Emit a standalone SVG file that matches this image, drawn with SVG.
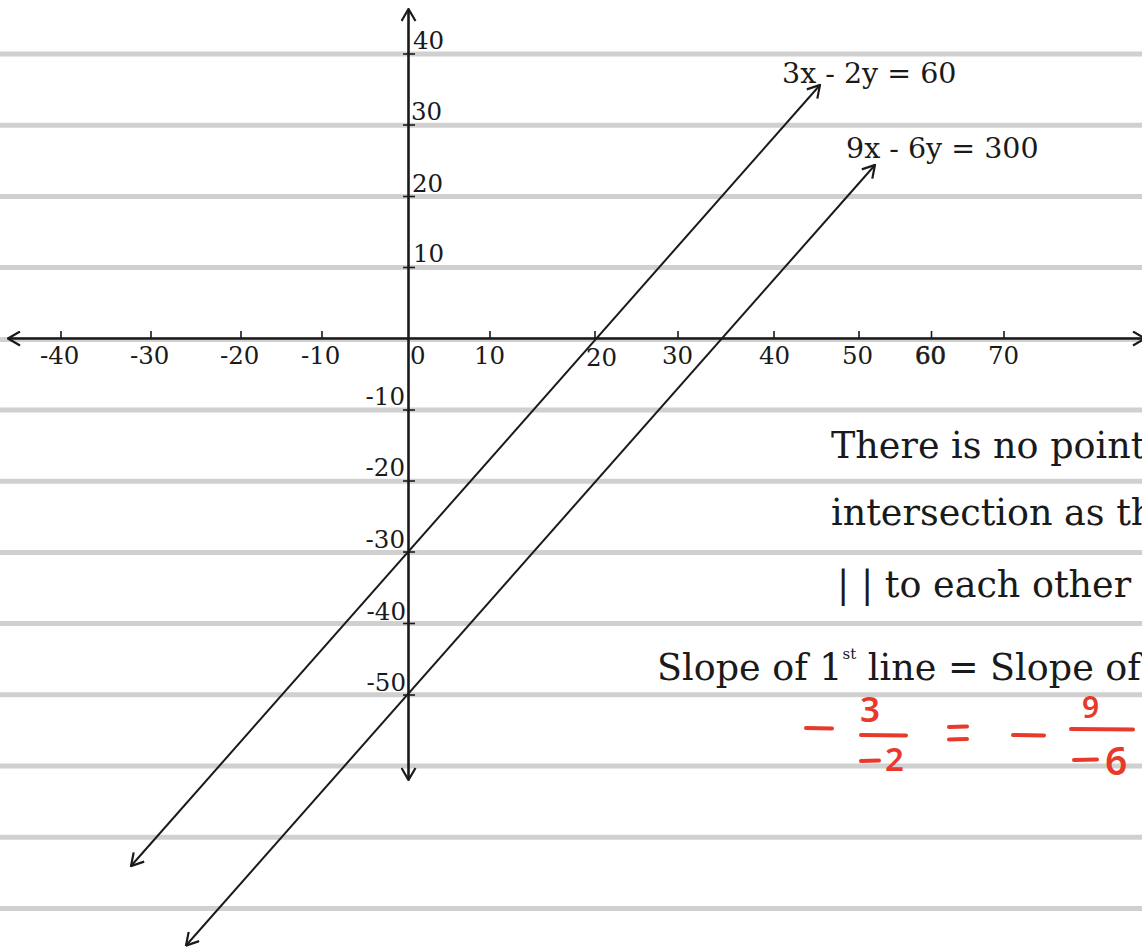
<svg xmlns="http://www.w3.org/2000/svg" width="1142" height="950" viewBox="0 0 1142 950">
  <defs>
    <style>
      .rule { stroke: #d0d0d0; stroke-width: 5; }
      .axis { stroke: #1a1a1a; stroke-width: 2.6; fill: none; }
      .tick { stroke: #1a1a1a; stroke-width: 1.6; }
      .graph { stroke: #1a1a1a; stroke-width: 2; fill: none; }
      .lbl { font-family: "DejaVu Serif", "Liberation Serif", serif; font-size: 24.5px; fill: #1a1a1a; }
      .eq { font-family: "DejaVu Serif", "Liberation Serif", serif; font-size: 28.5px; fill: #1a1a1a; }
      .note { font-family: "DejaVu Serif", "Liberation Serif", serif; font-size: 36.5px; fill: #1a1a1a; }
      .red { font-family: "Noto Sans", "Liberation Sans", sans-serif; font-weight: 600; fill: #e8392a; }
      .redline { stroke: #e8392a; stroke-width: 4; stroke-linecap: round; }
    </style>
    <marker id="arr" viewBox="0 0 14 16" refX="13" refY="8" markerWidth="14" markerHeight="16" orient="auto-start-reverse" markerUnits="userSpaceOnUse">
      <path d="M1,1 L13,8 L1,15" fill="none" stroke="#1a1a1a" stroke-width="2.2"/>
    </marker>
  </defs>

  <rect width="1142" height="950" fill="#ffffff"/>

  <g id="ruled-lines">
    <line class="rule" x1="0" y1="54" x2="1142" y2="54"/>
    <line class="rule" x1="0" y1="125.2" x2="1142" y2="125.2"/>
    <line class="rule" x1="0" y1="196.4" x2="1142" y2="196.4"/>
    <line class="rule" x1="0" y1="267.6" x2="1142" y2="267.6"/>
    <line class="rule" x1="0" y1="339.5" x2="1142" y2="339.5"/>
    <line class="rule" x1="0" y1="410" x2="1142" y2="410"/>
    <line class="rule" x1="0" y1="481.2" x2="1142" y2="481.2"/>
    <line class="rule" x1="0" y1="552.4" x2="1142" y2="552.4"/>
    <line class="rule" x1="0" y1="623.6" x2="1142" y2="623.6"/>
    <line class="rule" x1="0" y1="694.8" x2="1142" y2="694.8"/>
    <line class="rule" x1="0" y1="766" x2="1142" y2="766"/>
    <line class="rule" x1="0" y1="837.2" x2="1142" y2="837.2"/>
    <line class="rule" x1="0" y1="908.4" x2="1142" y2="908.4"/>
  </g>

  <g id="axes">
    <line class="axis" x1="408.5" y1="9" x2="408.5" y2="780" marker-start="url(#arr)" marker-end="url(#arr)"/>
    <line class="axis" x1="8" y1="338.5" x2="1145" y2="338.5" marker-start="url(#arr)" marker-end="url(#arr)"/>
  </g>

  <g id="ticks">
    <line class="tick" x1="61" y1="331" x2="61" y2="339"/>
    <line class="tick" x1="151" y1="331" x2="151" y2="339"/>
    <line class="tick" x1="241" y1="331" x2="241" y2="339"/>
    <line class="tick" x1="322" y1="331" x2="322" y2="339"/>
    <line class="tick" x1="490" y1="331" x2="490" y2="339"/>
    <line class="tick" x1="595" y1="331" x2="595" y2="339"/>
    <line class="tick" x1="678" y1="331" x2="678" y2="339"/>
    <line class="tick" x1="774" y1="331" x2="774" y2="339"/>
    <line class="tick" x1="859" y1="331" x2="859" y2="339"/>
    <line class="tick" x1="931.5" y1="331" x2="931.5" y2="339"/>
    <line class="tick" x1="1004" y1="331" x2="1004" y2="339"/>
    <line class="tick" x1="403" y1="54" x2="415" y2="54"/>
    <line class="tick" x1="403" y1="125" x2="415" y2="125"/>
    <line class="tick" x1="403" y1="196.5" x2="415" y2="196.5"/>
    <line class="tick" x1="403" y1="267.5" x2="415" y2="267.5"/>
    <line class="tick" x1="403" y1="410" x2="415" y2="410"/>
    <line class="tick" x1="403" y1="481" x2="415" y2="481"/>
    <line class="tick" x1="403" y1="552" x2="415" y2="552"/>
    <line class="tick" x1="403" y1="623.5" x2="415" y2="623.5"/>
    <line class="tick" x1="403" y1="695" x2="415" y2="695"/>
  </g>

  <g id="x-labels" class="lbl">
    <text x="40" y="364">-40</text>
    <text x="130" y="364">-30</text>
    <text x="220" y="364">-20</text>
    <text x="301" y="364">-10</text>
    <text x="410" y="364">0</text>
    <text x="474" y="364">10</text>
    <text x="586" y="366">20</text>
    <text x="662" y="364">30</text>
    <text x="759" y="364">40</text>
    <text x="842" y="364">50</text>
    <text x="915" y="364" stroke="#1a1a1a" stroke-width="0.6">60</text>
    <text x="988" y="364">70</text>
  </g>

  <g id="y-labels" class="lbl">
    <text x="413" y="49">40</text>
    <text x="411" y="120">30</text>
    <text x="412" y="192">20</text>
    <text x="413" y="262">10</text>
    <text x="405" y="405" text-anchor="end">-10</text>
    <text x="405" y="476" text-anchor="end">-20</text>
    <text x="405" y="548" text-anchor="end">-30</text>
    <text x="406" y="620" text-anchor="end">-40</text>
    <text x="406" y="691" text-anchor="end">-50</text>
  </g>

  <g id="connectors">
    <line id="line1" class="graph" x1="131" y1="866" x2="820" y2="85" marker-start="url(#arr)" marker-end="url(#arr)"/>
    <line id="line2" class="graph" x1="186" y1="945.5" x2="875" y2="165" marker-start="url(#arr)" marker-end="url(#arr)"/>
  </g>

  <g id="label-line1">
    <text class="eq" x="782" y="83">3x - 2y = 60</text>
  </g>
  <g id="label-line2">
    <text class="eq" x="846" y="158">9x - 6y = 300</text>
  </g>

  <g id="note">
    <text class="note" x="831" y="458">There is no point</text>
    <text class="note" x="831" y="525">intersection as th</text>
    <text class="note" x="837" y="597">| | to each other</text>
    <text class="note" x="657" y="680">Slope of 1<tspan font-size="15" dy="-21">st</tspan><tspan dy="21"> line = Slope of</tspan></text>
  </g>

  <g id="red-work">
    <line class="redline" x1="806" y1="728" x2="832" y2="728.5"/>
    <text class="red" x="860" y="722" font-size="35">3</text>
    <line class="redline" x1="861" y1="735" x2="906" y2="735.5"/>
    <line class="redline" x1="861" y1="761" x2="879" y2="760.5"/>
    <text class="red" x="885" y="771" font-size="33">2</text>
    <line class="redline" x1="949" y1="727" x2="967" y2="726.5"/>
    <line class="redline" x1="949" y1="739.5" x2="967" y2="739"/>
    <line class="redline" x1="1013" y1="735" x2="1044" y2="735.5"/>
    <text class="red" x="1082" y="718" font-size="30">9</text>
    <line class="redline" x1="1071" y1="729" x2="1133" y2="729.5"/>
    <line class="redline" x1="1074" y1="760" x2="1097" y2="759.5"/>
    <text class="red" x="1105" y="775" font-size="39">6</text>
  </g>
</svg>
